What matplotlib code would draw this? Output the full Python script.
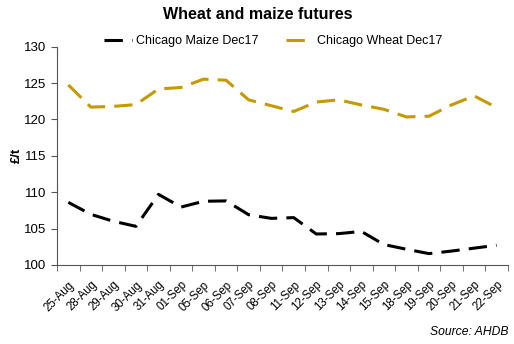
import matplotlib.pyplot as plt

plt.rcParams['font.family'] = ['Liberation Sans', 'DejaVu Sans']

dates = ["25-Aug", "28-Aug", "29-Aug", "30-Aug", "31-Aug", "01-Sep", "05-Sep",
         "06-Sep", "07-Sep", "08-Sep", "11-Sep", "12-Sep", "13-Sep", "14-Sep",
         "15-Sep", "18-Sep", "19-Sep", "20-Sep", "21-Sep", "22-Sep"]
maize = [108.6, 106.95, 106.0, 105.3, 109.7, 107.95, 108.75, 108.8, 106.9, 106.4,
         106.5, 104.25, 104.3, 104.6, 102.8, 102.15, 101.55, 101.9, 102.3, 102.7]
wheat = [124.75, 121.7, 121.8, 122.05, 124.2, 124.4, 125.55, 125.4, 122.7, 121.9,
         121.1, 122.4, 122.7, 122.0, 121.4, 120.35, 120.45, 122.0, 123.25, 121.65]

fig = plt.figure(figsize=(5.14, 3.44), dpi=100)
ax = fig.add_axes([0.111, 0.23, 0.877, 0.634])

x = list(range(len(dates)))
ax.plot(x, maize, color="black", lw=2.2, dashes=(6, 3), label="Chicago Maize Dec17")
ax.plot(x, wheat, color="#C49A00", lw=2.2, dashes=(6, 3), label="Chicago Wheat Dec17")

ax.set_xlim(-0.5, len(dates) - 0.5)
ax.set_ylim(100, 130)
ax.set_yticks(range(100, 131, 5))
ax.set_xticks(x)
ax.set_xticklabels(dates, rotation=45, ha="right", rotation_mode="anchor")
ax.set_xticks([i - 0.5 for i in range(len(dates) + 1)], minor=True)
ax.tick_params(axis="x", which="major", length=0, labelsize=8.3, pad=10)
ax.tick_params(axis="x", which="minor", length=4, direction="out", color="#555555")
ax.tick_params(axis="y", length=4, labelsize=9.5, color="#555555")

for s in ["top", "right"]:
    ax.spines[s].set_visible(False)
ax.spines["left"].set_color("#555555")
ax.spines["bottom"].set_color("#555555")

ax.set_ylabel("£/t", fontsize=9.5, fontweight="bold", labelpad=1)
fig.text(0.502, 0.958, "Wheat and maize futures", ha="center", va="center",
         fontsize=11.5, fontweight="bold")
ax.legend(loc="center", bbox_to_anchor=(0.48, 1.026), ncol=2, frameon=False,
          fontsize=9, handlelength=2.2, handletextpad=0.3, columnspacing=2.2,
          borderaxespad=0)
fig.text(0.99, 0.035, "Source: AHDB", ha="right", va="center", fontsize=8.7,
         style="italic")

fig.savefig("out.png", dpi=100)
